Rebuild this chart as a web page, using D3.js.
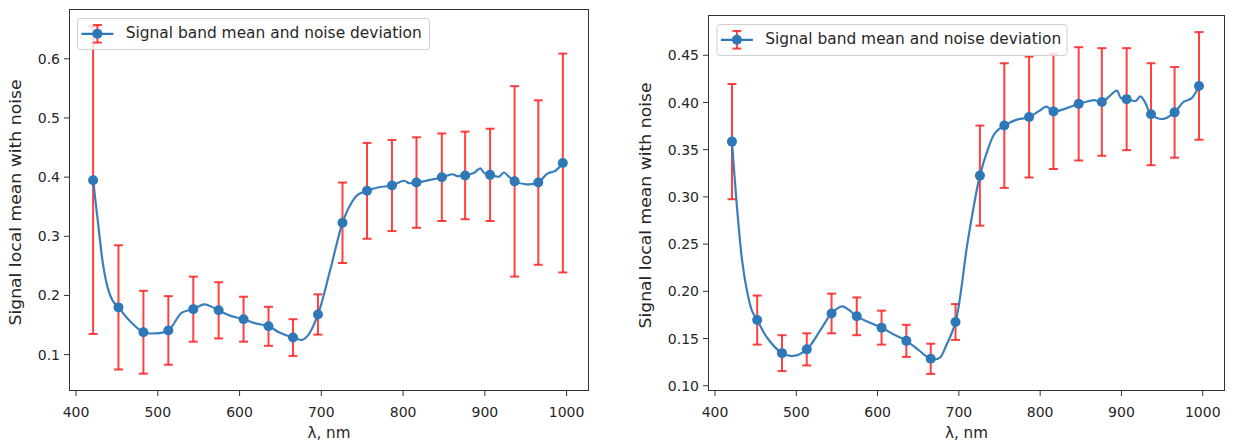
<!DOCTYPE html>
<html>
<head>
<meta charset="utf-8">
<script src="https://cdn.jsdelivr.net/npm/d3@7"></script>
<style>
  html, body { margin: 0; padding: 0; background: #fff; }
  svg { display: block; }
  text { font-family: "DejaVu Sans", sans-serif; fill: #262626; }
</style>
</head>
<body>
<svg id="chart" width="1246" height="447"></svg>
<script>
// Band centres (nm)
const bandNm = [421.5, 452.5, 483, 513.5, 544, 575, 605.5, 636, 666, 696.5,
                726.5, 756.5, 787, 817, 848, 876.5, 907, 937, 966, 996];

// Panel A: band means and noise deviations
const meanA = [0.394, 0.179, 0.137, 0.140, 0.176, 0.174, 0.159, 0.147, 0.128, 0.167,
               0.322, 0.376, 0.385, 0.390, 0.399, 0.402, 0.403, 0.392, 0.390, 0.423];
const devA  = [0.260, 0.105, 0.070, 0.058, 0.055, 0.0475, 0.038, 0.033, 0.031, 0.034,
               0.068, 0.081, 0.077, 0.0765, 0.074, 0.074, 0.078, 0.161, 0.139, 0.185];

// Panel B: band means and noise deviations
const meanB = [0.358, 0.169, 0.134, 0.138, 0.176, 0.173, 0.161, 0.147, 0.128, 0.167,
               0.322, 0.375, 0.384, 0.390, 0.398, 0.400, 0.403, 0.387, 0.389, 0.417];
const devB  = [0.061, 0.026, 0.019, 0.017, 0.021, 0.020, 0.018, 0.017, 0.016, 0.019,
               0.053, 0.066, 0.064, 0.061, 0.060, 0.057, 0.054, 0.054, 0.048, 0.057];

// Local mean spectrum samples (nm)
const specNm = [421.5, 428, 434, 440, 446, 452.5, 465, 483, 497, 513.5,
                530, 544, 557, 565, 575, 589, 605.5, 620, 636, 650,
                666, 677, 685, 696.5, 712, 726.5, 736, 745, 756.5, 771,
                787, 802, 808, 817, 832, 848, 861, 867, 876.5, 887,
                895, 900, 907, 918, 924, 930, 937, 952, 966, 977,
                987, 996];
const specA = [0.394, 0.316, 0.248, 0.209, 0.189, 0.179, 0.158, 0.137, 0.135, 0.140,
               0.170, 0.176, 0.184, 0.181, 0.174, 0.165, 0.159, 0.152, 0.147, 0.136,
               0.128, 0.124, 0.133, 0.167, 0.245, 0.322, 0.352, 0.369, 0.376, 0.382,
               0.385, 0.393, 0.389, 0.390, 0.394, 0.399, 0.404, 0.401, 0.402, 0.406,
               0.414, 0.406, 0.403, 0.400, 0.407, 0.400, 0.392, 0.387, 0.390, 0.405,
               0.410, 0.423];
const specB = [0.358, 0.285, 0.232, 0.200, 0.179, 0.169, 0.150, 0.134, 0.131, 0.138,
               0.158, 0.176, 0.1836, 0.180, 0.173, 0.167, 0.161, 0.154, 0.147, 0.138,
               0.128, 0.129, 0.142, 0.167, 0.255, 0.322, 0.349, 0.367, 0.375, 0.381,
               0.384, 0.392, 0.395, 0.390, 0.393, 0.398, 0.401, 0.402, 0.400, 0.407,
               0.412, 0.404, 0.403, 0.401, 0.406, 0.399, 0.387, 0.382, 0.389, 0.400,
               0.404, 0.417];

const xTicks = [400, 500, 600, 700, 800, 900, 1000];
const yTicksA = [0.1, 0.2, 0.3, 0.4, 0.5, 0.6];
const yTicksB = [0.10, 0.15, 0.20, 0.25, 0.30, 0.35, 0.40, 0.45];

const legendLabel = "Signal band mean and noise deviation";
const yLabel = "Signal local mean with noise";
const xLabel = "λ, nm";

const BLUE = "#2f78b7";
const RED = "#ff2020";

const svg = d3.select("#chart");

function drawPanel(opt) {
  const { box, mean, dev, spec, yTicks, yFmt, legend } = opt;
  const g = svg.append("g");

  const x = d3.scaleLinear().domain([392, 1028]).range([box.left, box.right]);
  const lo = d3.min(mean, (m, i) => m - dev[i]);
  const hi = d3.max(mean, (m, i) => m + dev[i]);
  const pad = (hi - lo) * 0.05;
  const y = d3.scaleLinear().domain([lo - pad, hi + pad]).range([box.bottom, box.top]);

  // axes
  const xAxis = g.append("g")
    .attr("transform", `translate(0,${box.bottom})`)
    .call(d3.axisBottom(x).tickValues(xTicks).tickFormat(d3.format("d"))
      .tickSize(5).tickPadding(4).tickSizeOuter(0));
  xAxis.select(".domain").remove();
  xAxis.selectAll("line").attr("stroke", "#333").attr("stroke-width", 1);
  xAxis.selectAll("text").attr("font-size", 14).attr("dy", null).attr("y", 26);

  const yAxis = g.append("g")
    .attr("transform", `translate(${box.left},0)`)
    .call(d3.axisLeft(y).tickValues(yTicks).tickFormat(d3.format(yFmt))
      .tickSize(5).tickPadding(4).tickSizeOuter(0));
  yAxis.select(".domain").remove();
  yAxis.selectAll("line").attr("stroke", "#333").attr("stroke-width", 1);
  yAxis.selectAll("text").attr("font-size", 14).attr("x", -9).attr("dy", "0.36em");

  // error bars
  const eb = g.append("g").attr("stroke", RED).attr("stroke-opacity", 0.85).attr("stroke-width", 2);
  bandNm.forEach((nm, i) => {
    const cx = x(nm), y0 = y(mean[i] - dev[i]), y1 = y(mean[i] + dev[i]);
    eb.append("line").attr("x1", cx).attr("x2", cx).attr("y1", y0).attr("y2", y1);
    eb.append("line").attr("x1", cx - 4.5).attr("x2", cx + 4.5).attr("y1", y0).attr("y2", y0);
    eb.append("line").attr("x1", cx - 4.5).attr("x2", cx + 4.5).attr("y1", y1).attr("y2", y1);
  });

  // local mean spectrum
  const line = d3.line()
    .x((d, i) => x(specNm[i]))
    .y(d => y(d))
    .curve(d3.curveCatmullRom.alpha(0.5));
  g.append("path").datum(spec)
    .attr("fill", "none").attr("stroke", BLUE).attr("stroke-width", 2.2)
    .attr("stroke-opacity", 0.95).attr("d", line);

  // band markers
  g.append("g").selectAll("circle").data(mean).join("circle")
    .attr("cx", (d, i) => x(bandNm[i])).attr("cy", d => y(d))
    .attr("r", 5).attr("fill", BLUE);

  // frame
  g.append("rect")
    .attr("x", box.left + 0.5).attr("y", box.top + 0.5)
    .attr("width", box.right - box.left - 1).attr("height", box.bottom - box.top - 1)
    .attr("fill", "none").attr("stroke", "#333").attr("stroke-width", 1);

  // axis titles
  g.append("text")
    .attr("x", (box.left + box.right) / 2).attr("y", 438)
    .attr("text-anchor", "middle").attr("font-size", 15)
    .attr("textLength", 43).attr("lengthAdjust", "spacingAndGlyphs").text(xLabel);
  g.append("text")
    .attr("transform", `translate(${opt.yLabelX},${(box.top + box.bottom) / 2 + 2.5}) rotate(-90)`)
    .attr("text-anchor", "middle").attr("font-size", 15.5)
    .attr("textLength", 246).attr("lengthAdjust", "spacingAndGlyphs").text(yLabel);

  // legend
  const lg = g.append("g");
  lg.append("rect")
    .attr("x", legend.x + 0.5).attr("y", legend.y + 0.5)
    .attr("width", legend.w).attr("height", 31).attr("rx", 3)
    .attr("fill", "#fff").attr("fill-opacity", 0.8)
    .attr("stroke", "#d0d0d0").attr("stroke-width", 1);
  const hx = legend.x + 20.4, hy = legend.y + 15.8;
  const le = lg.append("g").attr("stroke", RED).attr("stroke-opacity", 0.85).attr("stroke-width", 2);
  le.append("line").attr("x1", hx).attr("x2", hx).attr("y1", hy - 8.8).attr("y2", hy + 8.8);
  le.append("line").attr("x1", hx - 4.5).attr("x2", hx + 4.5).attr("y1", hy - 8.8).attr("y2", hy - 8.8);
  le.append("line").attr("x1", hx - 4.5).attr("x2", hx + 4.5).attr("y1", hy + 8.8).attr("y2", hy + 8.8);
  lg.append("line").attr("x1", hx - 16).attr("x2", hx + 16).attr("y1", hy).attr("y2", hy)
    .attr("stroke", BLUE).attr("stroke-width", 2.2);
  lg.append("circle").attr("cx", hx).attr("cy", hy).attr("r", 5).attr("fill", BLUE);
  lg.append("text").attr("x", legend.x + 48.7).attr("y", legend.y + 19.5)
    .attr("font-size", 15).attr("textLength", 296).attr("lengthAdjust", "spacingAndGlyphs")
    .text(legendLabel);
}

drawPanel({
  box: { left: 69, top: 9, right: 589, bottom: 391 },
  mean: meanA, dev: devA, spec: specA,
  yTicks: yTicksA, yFmt: ".1f", yLabelX: 20.5,
  legend: { x: 77, y: 18, w: 352 }
});

drawPanel({
  box: { left: 708, top: 15, right: 1225, bottom: 391 },
  mean: meanB, dev: devB, spec: specB,
  yTicks: yTicksB, yFmt: ".2f", yLabelX: 651,
  legend: { x: 716.5, y: 24, w: 350 }
});
</script>
</body>
</html>
